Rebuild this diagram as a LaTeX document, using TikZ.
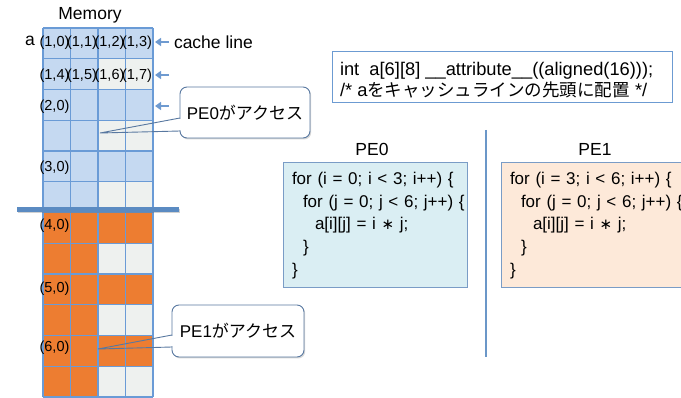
\documentclass[tikz,border=0pt]{standalone}
\usepackage{fontspec}
\setmainfont{Liberation Sans}
\newfontfamily\jp{Noto Sans CJK JP}
\newfontfamily\symfont{DejaVu Sans}
\usetikzlibrary{calc,shadows,arrows.meta}

\definecolor{cellblue}{HTML}{C5D9F1}
\definecolor{cellgray}{HTML}{EEF1EF}
\definecolor{cellorange}{HTML}{ED7D31}
\definecolor{gridblue}{HTML}{6A9BD6}
\definecolor{barblue}{HTML}{5B8BC2}
\definecolor{pezero}{HTML}{DAEEF3}
\definecolor{peone}{HTML}{FDE9D9}
\definecolor{boxedge}{HTML}{7A9CC6}
\definecolor{decledge}{HTML}{6C9BD2}
\definecolor{calloutedge}{HTML}{5878A0}
\definecolor{arrowblue}{HTML}{6E9AD0}

\newcommand{\mul}{{\symfont\fontsize{15}{15}\selectfont ∗}}

\begin{document}
\begin{tikzpicture}[x=1pt, y=-1pt,
  every node/.style={inner sep=0pt, outer sep=0pt},
  gridline/.style={draw=gridblue, line width=1.3pt},
  celllabel/.style={font=\fontsize{14.5}{16}\selectfont},
  txt/.style={font=\fontsize{17.5}{21}\selectfont},
  rowarrow/.style={draw=arrowblue, line width=2.6pt, -{Triangle[width=8pt,length=6pt]}},
  calloutbox/.style={draw=calloutedge, line width=0.9pt, fill=white, rounded corners=7pt,
    font=\fontsize{17}{20}\selectfont,
    drop shadow={shadow xshift=1.2pt, shadow yshift=-1.5pt, opacity=0.25, fill=black!60}},
  tailline/.style={draw=calloutedge, line width=0.9pt},
  codebox/.style={draw=boxedge, line width=1pt, align=left, text width=166pt,
    inner xsep=9pt, minimum height=125pt, font=\fontsize{17}{22.75}\selectfont},
  declbox/.style={draw=decledge, line width=1pt, fill=white, minimum width=340pt, minimum height=51pt}
]
\useasboundingbox (0,0) rectangle (681,398);
\clip (0,0) rectangle (681,398);

% memory cells: blue part for PE0, orange part for PE1, untouched cells gray
\fill[cellblue] (43,28) rectangle (153,212.5);
\fill[cellorange] (43,212.5) rectangle (153,397);
\foreach \r in {1,3,5,7,9,11}
  \fill[cellgray] (98,{28+30.75*\r}) rectangle (153,{28+30.75*(\r+1)});
\foreach \x in {43,70.5,98,125.5,153}
  \draw[gridline] (\x,28) -- (\x,397);
\foreach \r in {0,...,12}
  \draw[gridline] (43,{28+30.75*\r}) -- (153,{28+30.75*\r});

% element labels
\node[celllabel] (e10) at (54.5,43) {(1,0)};
\node[celllabel] (e11) at (82,43) {(1,1)};
\node[celllabel] (e12) at (109.5,43) {(1,2)};
\node[celllabel] (e13) at (137,43) {(1,3)};
\node[celllabel] (e14) at (54.5,76) {(1,4)};
\node[celllabel] (e15) at (82,76) {(1,5)};
\node[celllabel] (e16) at (109.5,76) {(1,6)};
\node[celllabel] (e17) at (137,76) {(1,7)};
\node[celllabel] (e20) at (54.5,107) {(2,0)};
\node[celllabel] (e30) at (54.5,168) {(3,0)};
\node[celllabel] (e40) at (54.5,226) {(4,0)};
\node[celllabel] (e50) at (54.5,289) {(5,0)};
\node[celllabel] (e60) at (54.5,348) {(6,0)};

\node[txt] (memory) at (90,15) {Memory};
\node[txt] (aname) at (30,41) {a};
\node[txt, anchor=west] (cacheline) at (174,42) {cache line};

% cache line markers
\coordinate (a0s) at (169,42);  \coordinate (a0e) at (155,42);
\coordinate (a1s) at (169,75);  \coordinate (a1e) at (155,75);
\coordinate (a2s) at (169,106); \coordinate (a2e) at (155,106);
\draw[rowarrow] (a0s) -- (a0e);
\draw[rowarrow] (a1s) -- (a1e);
\draw[rowarrow] (a2s) -- (a2e);

% boundary between the two halves
\fill[barblue, drop shadow={shadow xshift=0.8pt, shadow yshift=-1.5pt, opacity=0.3, fill=black!60}]
  (17,207.5) rectangle (179,212);

% callouts
\node[calloutbox, minimum width=130pt, minimum height=51pt] (c0) at (245,112.5) {PE0{\jp がアクセス}};
\coordinate (t0) at (100,133);
\draw[white, line width=1.6pt] ($(c0.west)+(0,6.3)$) -- ($(c0.west)+(0,17.7)$);
\draw[tailline] ($(c0.west)+(0,5.5)$) -- (t0) -- ($(c0.west)+(0,18.5)$);

\node[calloutbox, minimum width=132pt, minimum height=52pt] (c1) at (238,331) {PE1{\jp がアクセス}};
\coordinate (t1) at (98,349);
\draw[white, line width=1.6pt] ($(c1.west)+(0,4.8)$) -- ($(c1.west)+(0,15.2)$);
\draw[tailline] ($(c1.west)+(0,4)$) -- (t1) -- ($(c1.west)+(0,16)$);

% declaration
\node[declbox] (decl) at (502,77.5) {};
\node[anchor=west, align=left, font=\fontsize{18.3}{21}\selectfont] (decltext) at ($(decl.west)+(8,3)$)
  {int\ \ a[6][8] \_\_attribute\_\_((aligned(16)));\\/* a{\jp\fontsize{17.5}{21}\selectfont をキャッシュラインの先頭に配置} */};

% separator between the two processors
\coordinate (sepTop) at (486,130);
\coordinate (sepBot) at (486,357);
\draw[draw=barblue!90, line width=2.4pt] (sepTop) -- (sepBot);

% per-processor code
\node[txt] (pe0) at (372,149) {PE0};
\node[txt] (pe1) at (595,149) {PE1};

\node[codebox, fill=pezero] (code0) at (375,225.5)
  {\mbox{for (i = 0; i < 3; i++) \{}\\
   \mbox{\hspace*{11pt}for (j = 0; j < 6; j++) \{}\\
   \mbox{\hspace*{23pt}a[i][j] = i \mul{} j;}\\
   \mbox{\hspace*{11pt}\}}\\
   \mbox{\}}};
\node[codebox, fill=peone] (code1) at (593,225.5)
  {\mbox{for (i = 3; i < 6; i++) \{}\\
   \mbox{\hspace*{11pt}for (j = 0; j < 6; j++) \{}\\
   \mbox{\hspace*{23pt}a[i][j] = i \mul{} j;}\\
   \mbox{\hspace*{11pt}\}}\\
   \mbox{\}}};
\end{tikzpicture}
\end{document}
